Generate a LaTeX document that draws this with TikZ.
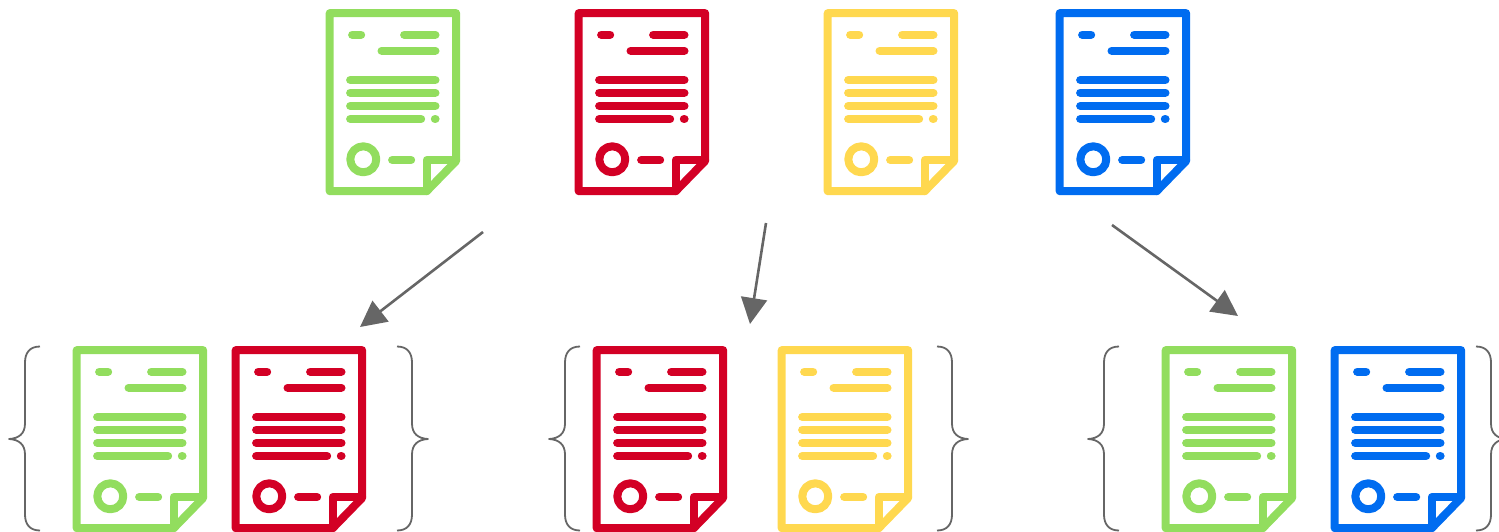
\documentclass[tikz,border=0pt]{standalone}
\usepackage{xcolor}
\usetikzlibrary{arrows.meta}
\definecolor{docgreen}{HTML}{92DD5E}
\definecolor{docred}{HTML}{D30025}
\definecolor{docyellow}{HTML}{FFD84F}
\definecolor{docblue}{HTML}{006CF0}
\definecolor{linkgray}{HTML}{666666}

\tikzset{
    docstroke/.style={line width=8pt, line join=round, line cap=round},
    docrow/.style={line width=8.4pt, line cap=round},
    bracestroke/.style={draw=linkgray, line width=1.8pt, line join=round},
    arrow/.style={-{Triangle[length=26pt, width=26pt]}, draw=linkgray, line width=2.6pt},
    pics/docicon/.style={code={
        \draw[docstroke, draw=#1] (100.7,181.7) -- (3.7,181.7) -- (3.7,3.6) -- (130.1,3.6)
            -- (130.1,151.5) -- cycle;
        \draw[docstroke, draw=#1] (100.7,181.7) -- (100.7,150.5) -- (130.1,150.5);
        \draw[docstroke, draw=#1] (37.3,149.8) circle (13pt);
        \draw[docrow, draw=#1] (66.3,150.5) -- (85,150.5);
        \draw[docrow, draw=#1] (26.3,25.2) -- (35,25.2);
        \draw[docrow, draw=#1] (78.3,25.2) -- (109.3,25.2);
        \draw[docrow, draw=#1] (55.7,41.2) -- (109.3,41.2);
        \draw[docrow, draw=#1] (24.3,70.5) -- (109.3,70.5);
        \draw[docrow, draw=#1] (24.3,83.2) -- (109.3,83.2);
        \draw[docrow, draw=#1] (24.3,96.5) -- (109.3,96.5);
        \draw[docrow, draw=#1] (24.3,109.5) -- (95,109.5);
        \draw[docrow, draw=#1] (109,109.5) -- (109.4,109.5);
    }},
    pics/bracket/.style={code={
        \draw[bracestroke] (31,0) .. controls (21,0) and (16,6) .. (16,16) -- (16,77)
            .. controls (16,87) and (10,92) .. (0,92.5)
            .. controls (10,93) and (16,98) .. (16,108) -- (16,168)
            .. controls (16,178) and (21,184) .. (31,184);
    }}
}

\begin{document}
\begin{tikzpicture}[x=1pt, y=-1pt]
\path[use as bounding box, clip] (0,0) rectangle (1499,531);

% source documents
\pic (srcgreen)  at (326,9.5)  {docicon=docgreen};
\pic (srcred)    at (575,9.5)  {docicon=docred};
\pic (srcyellow) at (824,9.5)  {docicon=docyellow};
\pic (srcblue)   at (1056,9.5) {docicon=docblue};

% pairs
\pic (pairagreen)  at (73,346.5)   {docicon=docgreen};
\pic (pairared)    at (232,346.5)  {docicon=docred};
\pic (pairbred)    at (593,346.5)  {docicon=docred};
\pic (pairbyellow) at (778,346.5)  {docicon=docyellow};
\pic (paircgreen)  at (1162,346.5) {docicon=docgreen};
\pic (paircblue)   at (1331,346.5) {docicon=docblue};

% braces
\pic (braceleftA)   at (9,346.5)    {bracket};
\pic[xscale=-1] (bracerightA) at (428,346.5) {bracket};
\pic (braceleftB)   at (549,346.5)  {bracket};
\pic[xscale=-1] (bracerightB) at (968,346.5) {bracket};
\pic (braceleftC)   at (1088,346.5) {bracket};
\pic[xscale=-1] (bracerightC) at (1507,346.5) {bracket};

\coordinate (afrom) at (483,232);
\coordinate (ato)   at (360,327);
\coordinate (bfrom) at (766,223);
\coordinate (bto)   at (750,324);
\coordinate (cfrom) at (1112,225);
\coordinate (cto)   at (1238,316);

\draw [arrow] (afrom) -- (ato);
\draw [arrow] (bfrom) -- (bto);
\draw [arrow] (cfrom) -- (cto);
\end{tikzpicture}
\end{document}
